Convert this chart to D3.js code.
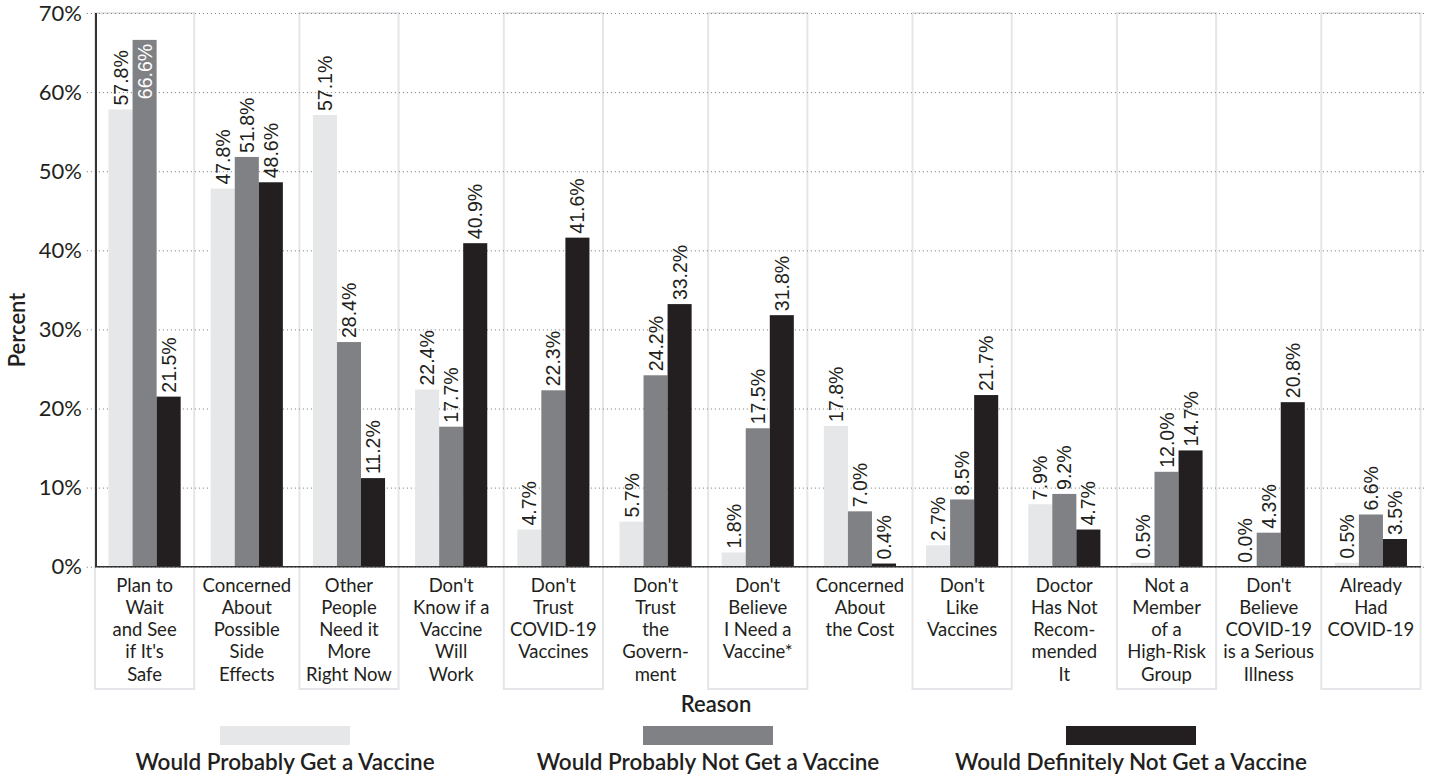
<!DOCTYPE html>
<html>
<head>
<meta charset="utf-8">
<script src="https://cdn.jsdelivr.net/npm/d3@7"></script>
<style>
  html, body { margin: 0; padding: 0; background: #fff; }
  svg { display: block; }
</style>
</head>
<body>
<svg id="chart" width="1431" height="777"></svg>
<script>
// Reasons for not getting a vaccine, by vaccination intent
const categories = [
  ["Plan to", "Wait", "and See", "if It's", "Safe"],
  ["Concerned", "About", "Possible", "Side", "Effects"],
  ["Other", "People", "Need it", "More", "Right Now"],
  ["Don't", "Know if a", "Vaccine", "Will", "Work"],
  ["Don't", "Trust", "COVID-19", "Vaccines"],
  ["Don't", "Trust", "the", "Govern-", "ment"],
  ["Don't", "Believe", "I Need a", "Vaccine*"],
  ["Concerned", "About", "the Cost"],
  ["Don't", "Like", "Vaccines"],
  ["Doctor", "Has Not", "Recom-", "mended", "It"],
  ["Not a", "Member", "of a", "High-Risk", "Group"],
  ["Don't", "Believe", "COVID-19", "is a Serious", "Illness"],
  ["Already", "Had", "COVID-19"]
];
const seriesNames = [
  "Would Probably Get a Vaccine",
  "Would Probably Not Get a Vaccine",
  "Would Definitely Not Get a Vaccine"
];
const probablyGet = [57.8, 47.8, 57.1, 22.4, 4.7, 5.7, 1.8, 17.8, 2.7, 7.9, 0.5, 0.0, 0.5];
const probablyNot = [66.6, 51.8, 28.4, 17.7, 22.3, 24.2, 17.5, 7.0, 8.5, 9.2, 12.0, 4.3, 6.6];
const definitelyNot = [21.5, 48.6, 11.2, 40.9, 41.6, 33.2, 31.8, 0.4, 21.7, 4.7, 14.7, 20.8, 3.5];
const yTicks = [0, 10, 20, 30, 40, 50, 60, 70];
const seriesColors = ["#e6e7e8", "#808184", "#231f20"];

const seriesValues = [probablyGet, probablyNot, definitelyNot];
const ink = "#231f20";
const svg = d3.select("#chart");

const x0 = d3.scaleBand().domain(d3.range(categories.length)).range([93.5, 1422]).padding(0);
const bw = x0.bandwidth();
const x1 = d3.scaleBand().domain(d3.range(3)).range([bw * 0.147, bw * 0.853]).padding(0);
const y = d3.scaleLinear().domain([0, 70]).range([566.7, 13]);

// Outlined columns behind alternating categories
const boxBottom = 689;
svg.append("g").selectAll("rect")
  .data(d3.range(categories.length).filter(i => i % 2 === 0))
  .join("rect")
  .attr("x", i => x0(i) + 1.5)
  .attr("y", y(70))
  .attr("width", bw - 3)
  .attr("height", boxBottom - y(70))
  .attr("fill", "none")
  .attr("stroke", "#e5e6e9")
  .attr("stroke-width", 2);

// Dotted horizontal gridlines and tick labels
const yAxis = d3.axisLeft(y).tickValues(yTicks).tickFormat(d => d + "%")
  .tickSize(1424 - 86).tickPadding(4);
const gy = svg.append("g").attr("transform", "translate(1424,0)").call(yAxis);
gy.select(".domain").remove();
gy.selectAll(".tick line")
  .attr("stroke", "#8a8a8a")
  .attr("stroke-width", 1)
  .attr("stroke-dasharray", "1.2,2.8");
gy.selectAll(".tick text")
  .attr("fill", ink)
  .style("font-family", "Lato, sans-serif")
  .style("font-size", "22px");

// Bars
const groups = svg.append("g").selectAll("g")
  .data(d3.range(categories.length))
  .join("g")
  .attr("transform", i => `translate(${x0(i)},0)`);

groups.selectAll("rect")
  .data(i => seriesValues.map((vals, s) => ({ s, v: vals[i] })))
  .join("rect")
  .attr("x", d => x1(d.s))
  .attr("y", d => y(d.v))
  .attr("width", x1.bandwidth())
  .attr("height", d => y(0) - y(d.v))
  .attr("fill", d => seriesColors[d.s]);

// Rotated value labels, placed inside the bar when they would run off the top
groups.selectAll("text")
  .data(i => seriesValues.map((vals, s) => ({ s, v: vals[i] })))
  .join("text")
  .each(function (d) {
    const label = d.v.toFixed(1) + "%";
    const cx = x1(d.s) + x1.bandwidth() / 2;
    const top = y(d.v);
    const approxLen = label.length * 11;
    const inside = top - 4 - approxLen < 0;
    d3.select(this)
      .text(label)
      .attr("transform", `translate(${cx},${inside ? top + 4 : top - 4}) rotate(-90)`)
      .attr("text-anchor", inside ? "end" : "start")
      .attr("dy", "0.36em")
      .attr("fill", inside ? "#ffffff" : ink)
      .style("font-family", "'Liberation Sans', Arial, sans-serif")
      .style("font-size", "19.5px");
  });

// Axis lines
svg.append("line")
  .attr("x1", 96).attr("x2", 96).attr("y1", y(70)).attr("y2", y(0))
  .attr("stroke", "#333").attr("stroke-width", 2);
svg.append("line")
  .attr("x1", 95).attr("x2", 1421).attr("y1", y(0)).attr("y2", y(0))
  .attr("stroke", "#333").attr("stroke-width", 1.6);

// Category labels
const catText = svg.append("g").selectAll("text")
  .data(categories)
  .join("text")
  .attr("text-anchor", "middle")
  .attr("fill", ink)
  .style("font-family", "Lato, sans-serif")
  .style("font-size", "18.5px");
catText.each(function (lines, i) {
  d3.select(this).selectAll("tspan")
    .data(lines)
    .join("tspan")
    .attr("x", x0(i) + bw / 2)
    .attr("y", (d, k) => 591.5 + k * 22.3)
    .text(d => d);
});

// Axis titles
const titleStyle = sel => sel
  .attr("text-anchor", "middle")
  .attr("fill", ink)
  .style("font-family", "Lato, sans-serif")
  .style("font-weight", "600")
  .style("font-size", "22px");

svg.append("text")
  .attr("transform", "translate(25,330) rotate(-90)")
  .call(titleStyle)
  .text("Percent");

svg.append("text")
  .attr("x", 716).attr("y", 712)
  .call(titleStyle)
  .text("Reason");

// Legend
const legendX = d3.scalePoint().domain(d3.range(3)).range([285, 1131]);
const legend = svg.append("g").selectAll("g")
  .data(seriesNames)
  .join("g")
  .attr("transform", (d, i) => `translate(${legendX(i)},0)`);
legend.append("rect")
  .attr("x", -65).attr("y", 726).attr("width", 130).attr("height", 19)
  .attr("fill", (d, i) => seriesColors[i]);
legend.append("text")
  .attr("y", 770)
  .call(titleStyle)
  .style("font-size", "22.5px")
  .text(d => d);
</script>
</body>
</html>
